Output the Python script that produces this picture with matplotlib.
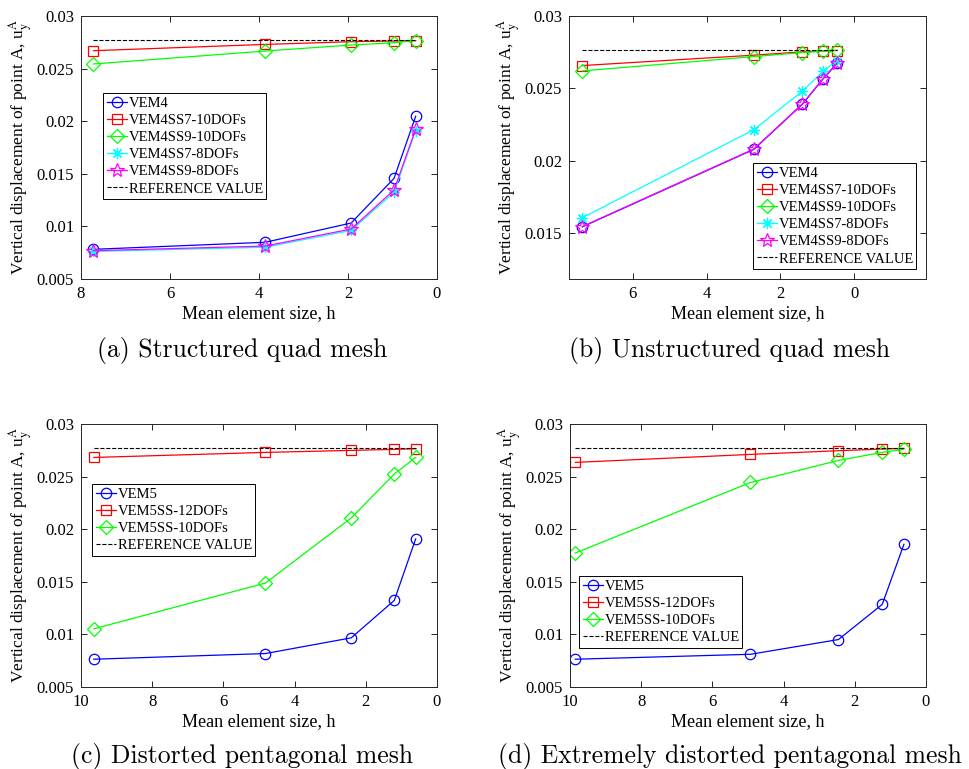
import matplotlib
matplotlib.use("Agg")
from matplotlib import pyplot as plt
import numpy as np

plt.rcParams['font.family'] = ['Liberation Serif', 'DejaVu Serif']
plt.rcParams['mathtext.fontset'] = 'stix'

# (a) structured quad mesh
h_a = [7.72, 3.86, 1.93, 0.965, 0.48]
a_vem4 = [0.00782, 0.00849, 0.01032, 0.01457, 0.02046]
a_ss7_10 = [0.0267, 0.0273, 0.02756, 0.02762, 0.02766]
a_ss9_10 = [0.02544, 0.02667, 0.02724, 0.02746, 0.02766]
a_ss7_8 = [0.00762, 0.00802, 0.00962, 0.01324, 0.01910]
a_ss9_8 = [0.00769, 0.00813, 0.00975, 0.01346, 0.01923]

# (b) unstructured quad mesh
h_b = [7.37, 2.72, 1.40, 0.84, 0.46]
b_vem4 = [0.01541, 0.02077, 0.0239, 0.02565, 0.02673]
b_ss7_10 = [0.02657, 0.02729, 0.02752, 0.02758, 0.02761]
b_ss9_10 = [0.0262, 0.02719, 0.02747, 0.02756, 0.02765]
b_ss7_8 = [0.01604, 0.02213, 0.0248, 0.02618, 0.02692]
b_ss9_8 = [0.01543, 0.02079, 0.02392, 0.02567, 0.02675]

# (c) distorted pentagonal mesh
h_c = [9.64, 4.82, 2.41, 1.2, 0.6]
c_vem5 = [0.00764, 0.00818, 0.00967, 0.01323, 0.01907]
c_ss12 = [0.02682, 0.0273, 0.02749, 0.02759, 0.02765]
c_ss10 = [0.01053, 0.01488, 0.02107, 0.02524, 0.02682]

# (d) extremely distorted pentagonal mesh
h_d = [9.85, 4.93, 2.46, 1.23, 0.62]
d_vem5 = [0.00764, 0.00811, 0.00951, 0.01285, 0.01856]
d_ss12 = [0.02635, 0.02711, 0.02746, 0.02762, 0.02768]
d_ss10 = [0.01774, 0.02444, 0.02654, 0.0273, 0.02759]

ref_value = 0.02768

W, H = 969, 769
fig = plt.figure(figsize=(W/100, H/100), dpi=100)

def px_axes(l, t, r, b):
	return fig.add_axes([l/W, 1-b/H, (r-l)/W, (b-t)/H])

def style(ax, xlim, xticks, ylim, yticks):
	ax.set_xlim(*xlim)
	ax.set_ylim(*ylim)
	ax.set_xticks(xticks)
	ax.set_xticklabels(['%g' % t for t in xticks])
	ax.set_yticks(yticks)
	ax.set_yticklabels(['%g' % t for t in yticks])
	ax.tick_params(direction='in', top=True, right=True, labelsize=12, length=4, width=0.6, pad=5)
	for s in ax.spines.values():
		s.set_linewidth(0.7)
		s.set_color('#262626')
	ax.set_xlabel('Mean element size, h', fontsize=13, labelpad=2)
	ax.set_ylabel(r'Vertical displacement of point A, u$_{\mathrm{y}}^{\mathrm{A}}$', fontsize=12.5, labelpad=2)

# MATLAB-like markers: '*' is an 8-armed asterisk, 'p' a pentagram
asterisk = (8, 2, 0)
marker_size = {'o': 7.5, 's': 6.5, 'D': 7.5, asterisk: 8, '*': 10}

def curve(ax, x, y, c, m, label):
	ax.plot(x, y, color=c, marker=m, mfc='none', mec=c, ms=marker_size[m], lw=0.9, mew=0.9, label=label)

def legend(ax, x, y):
	leg = ax.legend(loc='upper left', bbox_to_anchor=(x/W, 1-y/H), bbox_transform=fig.transFigure,
		fontsize=10.5, fancybox=False, framealpha=1, edgecolor='black', borderpad=0.25,
		labelspacing=0.27, handlelength=1.4, handletextpad=0.1, borderaxespad=0)
	leg.get_frame().set_linewidth(0.7)

def caption(x, y, s):
	fig.text(x/W, 1-y/H, s, family='cmr10', fontsize=18.5, ha='center', va='center')

yt = [0.005, 0.01, 0.015, 0.02, 0.025, 0.03]

# panel a
ax = px_axes(81, 16, 437, 279)
curve(ax, h_a, a_vem4, 'b', 'o', 'VEM4')
curve(ax, h_a, a_ss7_10, 'r', 's', 'VEM4SS7-10DOFs')
curve(ax, h_a, a_ss9_10, 'lime', 'D', 'VEM4SS9-10DOFs')
curve(ax, h_a, a_ss7_8, 'cyan', asterisk, 'VEM4SS7-8DOFs')
curve(ax, h_a, a_ss9_8, 'magenta', '*', 'VEM4SS9-8DOFs')
ax.plot([h_a[0], h_a[-1]], [ref_value]*2, 'k--', lw=0.8, label='REFERENCE VALUE')
style(ax, (8, 0), [8, 6, 4, 2, 0], (0.005, 0.03), yt)
legend(ax, 103, 93)
caption(242, 350, '(a) Structured quad mesh')

# panel b
ax = px_axes(569, 16, 926, 279)
curve(ax, h_b, b_vem4, 'b', 'o', 'VEM4')
curve(ax, h_b, b_ss7_10, 'r', 's', 'VEM4SS7-10DOFs')
curve(ax, h_b, b_ss9_10, 'lime', 'D', 'VEM4SS9-10DOFs')
curve(ax, h_b, b_ss7_8, 'cyan', asterisk, 'VEM4SS7-8DOFs')
curve(ax, h_b, b_ss9_8, 'magenta', '*', 'VEM4SS9-8DOFs')
ax.plot([h_b[0], h_b[-1]], [ref_value]*2, 'k--', lw=0.8, label='REFERENCE VALUE')
style(ax, (7.73, -1.95), [6, 4, 2, 0], (0.0118, 0.03), [0.015, 0.02, 0.025, 0.03])
legend(ax, 753, 163)
caption(730, 350, '(b) Unstructured quad mesh')

# panel c
ax = px_axes(81, 424, 437, 687)
curve(ax, h_c, c_vem5, 'b', 'o', 'VEM5')
curve(ax, h_c, c_ss12, 'r', 's', 'VEM5SS-12DOFs')
curve(ax, h_c, c_ss10, 'lime', 'D', 'VEM5SS-10DOFs')
ax.plot([h_c[0], h_c[-1]], [ref_value]*2, 'k--', lw=0.8, label='REFERENCE VALUE')
style(ax, (10, 0), [10, 8, 6, 4, 2, 0], (0.005, 0.03), yt)
legend(ax, 92, 484)
caption(242, 757, '(c) Distorted pentagonal mesh')

# panel d
ax = px_axes(570, 424, 926, 687)
curve(ax, h_d, d_vem5, 'b', 'o', 'VEM5')
curve(ax, h_d, d_ss12, 'r', 's', 'VEM5SS-12DOFs')
curve(ax, h_d, d_ss10, 'lime', 'D', 'VEM5SS-10DOFs')
ax.plot([h_d[0], h_d[-1]], [ref_value]*2, 'k--', lw=0.8, label='REFERENCE VALUE')
style(ax, (10, 0), [10, 8, 6, 4, 2, 0], (0.005, 0.03), yt)
legend(ax, 579, 576)
caption(730, 757, '(d) Extremely distorted pentagonal mesh')

fig.savefig('out.png', dpi=100)
